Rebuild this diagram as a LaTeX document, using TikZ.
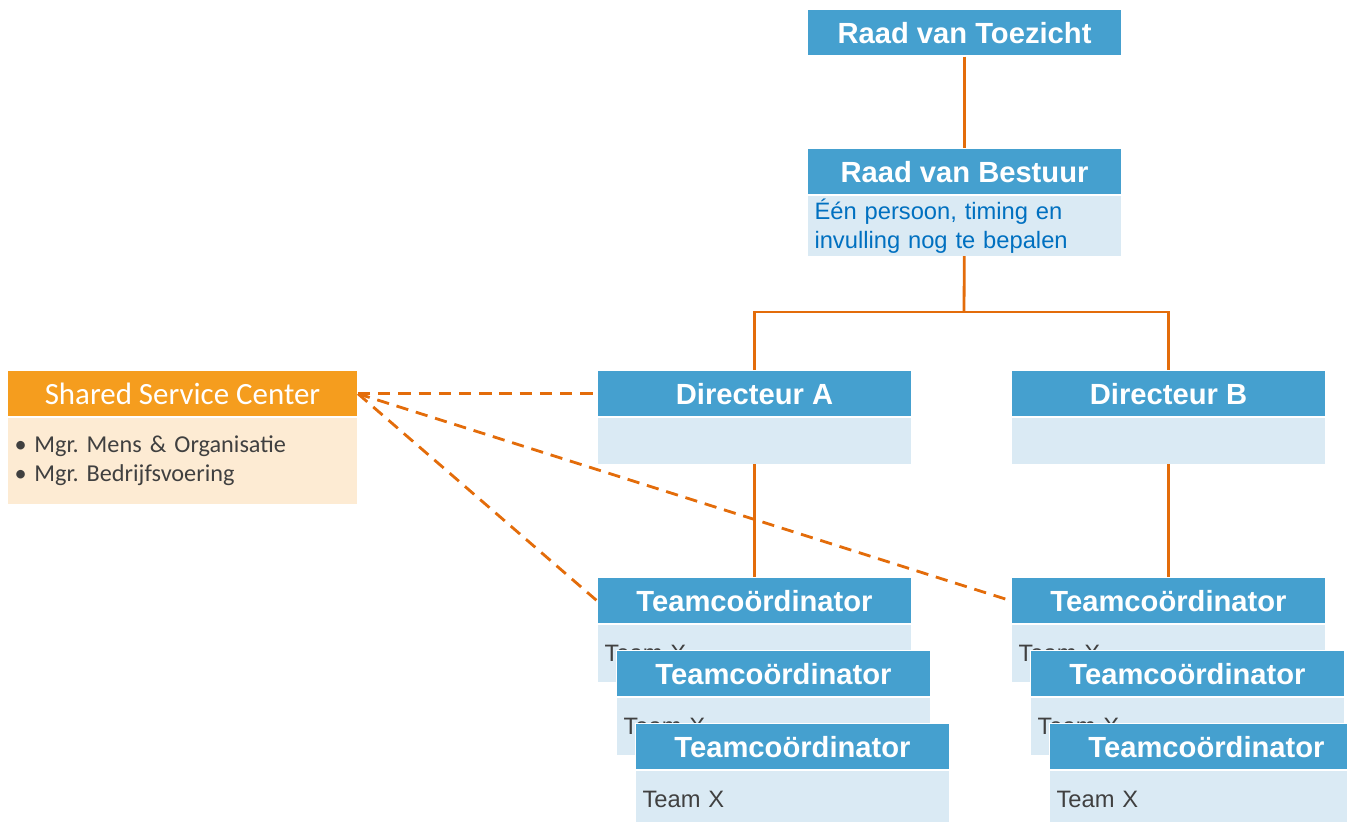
\documentclass[tikz,border=0pt]{standalone}
\usepackage{fontspec}
\setmainfont{Liberation Sans}
\newfontfamily\sscfont{Carlito}
\usetikzlibrary{positioning}
\definecolor{hdrblue}{RGB}{69,160,207}
\definecolor{bdyblue}{RGB}{218,234,244}
\definecolor{lineorange}{RGB}{227,108,10}
\definecolor{sscorange}{RGB}{245,157,30}
\definecolor{sscbody}{RGB}{253,235,211}
\definecolor{txtblue}{RGB}{0,112,192}
\definecolor{txtgray}{RGB}{64,64,64}
\frenchspacing

\begin{document}
\begin{tikzpicture}[x=0.02cm, y=-0.02cm,
    hdr/.style={fill=hdrblue, draw=white, line width=0.6pt, text=white,
      font=\bfseries\fontsize{16.6}{19}\selectfont, minimum width=6.28cm,
      minimum height=0.93cm, inner sep=0pt, anchor=north west},
    bdy/.style={fill=bdyblue, text=txtgray, text width=6cm, align=left,
      inner xsep=0.14cm, inner ysep=0pt, font=\fontsize{13.5}{16.4}\selectfont},
    conn/.style={lineorange, line width=1.6pt},
    dashconn/.style={lineorange, line width=1.6pt, dash pattern=on 7pt off 4.5pt}]
  \clip (0,0) rectangle (1347,822);
  % bestuur
  \node[hdr] (rvt) at (807,9) {Raad van Toezicht};
  \node[hdr] (rvb) at (807,148) {Raad van Bestuur};
  \node[bdy, below=0pt of rvb, minimum height=1.2cm, text=txtblue] (rvbtxt) {Één persoon, timing en\\invulling nog te bepalen};
  % directeuren
  \node[hdr] (dira) at (597,370) {Directeur A};
  \node[bdy, below=0pt of dira, minimum height=0.92cm] (diratxt) {};
  \node[hdr] (dirb) at (1011,370) {Directeur B};
  \node[bdy, below=0pt of dirb, minimum height=0.92cm] (dirbtxt) {};
  % teams A
  \node[hdr] (teama1) at (597,577) {Teamcoördinator};
  \node[bdy, below=0pt of teama1, minimum height=1.14cm] (teama1txt) {Team X};
  \node[hdr] (teama2) at (616,650) {Teamcoördinator};
  \node[bdy, below=0pt of teama2, minimum height=1.14cm] (teama2txt) {Team X};
  \node[hdr] (teama3) at (635,723) {Teamcoördinator};
  \node[bdy, below=0pt of teama3, minimum height=1.14cm] (teama3txt) {Team X};
  % teams B
  \node[hdr] (teamb1) at (1011,577) {Teamcoördinator};
  \node[bdy, below=0pt of teamb1, minimum height=1.14cm] (teamb1txt) {Team X};
  \node[hdr] (teamb2) at (1030,650) {Teamcoördinator};
  \node[bdy, below=0pt of teamb2, minimum height=1.14cm] (teamb2txt) {Team X};
  \node[hdr] (teamb3) at (1049,723) {Teamcoördinator};
  \node[bdy, below=0pt of teamb3, minimum height=1.14cm] (teamb3txt) {Team X};
  % shared service center
  \node[hdr, fill=sscorange, minimum width=7cm, font=\sscfont\fontsize{17.6}{20}\selectfont] (ssc) at (7,370) {Shared Service Center};
  \node[bdy, fill=sscbody, below=0pt of ssc, text width=6.72cm, minimum height=1.72cm,
    font=\sscfont\fontsize{13.8}{16.4}\selectfont] (ssctxt)
    {\makebox[11.3pt][l]{\textbullet}Mgr. Mens \& Organisatie\\\makebox[11.3pt][l]{\textbullet}Mgr. Bedrijfsvoering};
  % lijnen
  \coordinate (split) at (964,312);
  \draw[conn] (rvt) -- (rvb);
  \draw[conn] (rvbtxt) -- (split);
  \draw[conn] (split) -| (dira);
  \draw[conn] (split) -| (dirb);
  \draw[conn] (diratxt) -- (teama1);
  \draw[conn] (dirbtxt) -- (teamb1);
  \draw[dashconn] (ssc.east) -- (dira.west);
  \draw[dashconn] (ssc.east) -- (teama1.west);
  \draw[dashconn] (ssc.east) -- (teamb1.west);
\end{tikzpicture}
\end{document}
